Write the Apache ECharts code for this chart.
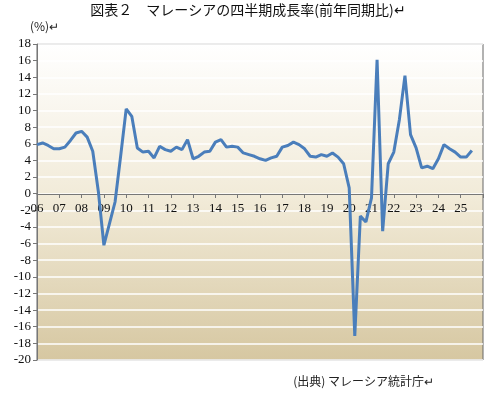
<!DOCTYPE html>
<html>
<head>
<meta charset="utf-8">
<script src="https://cdn.jsdelivr.net/npm/echarts@6/dist/echarts.min.js"></script>
<style>body{margin:0;background:#fff}#c{width:496px;height:400px}</style>
</head>
<body>
<div id="c"></div>
<script>
// 四半期成長率（前年同期比, %）2006Q1〜2025Q3
const years = ["06","07","08","09","10","11","12","13","14","15","16","17","18","19","20","21","22","23","24","25"];
const growth = [
  5.9, 6.1, 5.8, 5.4,
  5.4, 5.6, 6.4, 7.3,
  7.5, 6.8, 5.1, 0.3,
  -6.2, -3.6, -1.0, 4.5,
  10.2, 9.3, 5.5, 5.0,
  5.1, 4.3, 5.7, 5.3,
  5.1, 5.6, 5.3, 6.5,
  4.2, 4.5, 5.0, 5.1,
  6.2, 6.5, 5.6, 5.7,
  5.6, 4.9, 4.7, 4.5,
  4.2, 4.0, 4.3, 4.5,
  5.6, 5.8, 6.2, 5.9,
  5.4, 4.5, 4.4, 4.7,
  4.5, 4.9, 4.4, 3.6,
  0.7, -17.1, -2.7, -3.4,
  -0.5, 16.1, -4.5, 3.6,
  5.0, 8.9, 14.2, 7.1,
  5.5, 3.1, 3.3, 3.0,
  4.2, 5.9, 5.4, 5.0,
  4.4, 4.4, 5.2
];

// 四半期カテゴリ（2026Q1 を右端に置く）
const quarters = [];
years.forEach(y => { for (let q = 1; q <= 4; q++) quarters.push(q === 1 ? y : ""); });
quarters.push("");

const chart = echarts.init(document.getElementById("c"));
const serif = "'Liberation Serif','DejaVu Serif',serif";
chart.setOption({
  animation: false,
  graphic: [
    { type: "text", left: "center", top: 3,
      style: { text: "図表２　マレーシアの四半期成長率(前年同期比)↵", font: "14px 'Noto Sans CJK JP'", fill: "#111" } },
    { type: "text", left: 30, top: 20,
      style: { text: "(%)↵", font: "12px 'Noto Sans CJK JP'", fill: "#222" } },
    { type: "text", right: 62, top: 375,
      style: { text: "(出典) マレーシア統計庁↵", font: "12px 'Noto Sans CJK JP'", fill: "#222" } }
  ],
  grid: {
    left: 37, right: 13, top: 44, bottom: 40,
    show: true, borderColor: "#666", borderWidth: 1,
    backgroundColor: new echarts.graphic.LinearGradient(0, 0, 0, 1, [
      { offset: 0, color: "#ffffff" },
      { offset: 0.5, color: "#f1ead7" },
      { offset: 1, color: "#d6c7a1" }
    ])
  },
  xAxis: {
    type: "category",
    data: quarters,
    boundaryGap: false,
    offset: -166,
    axisLine: { onZero: false, lineStyle: { color: "#777" } },
    axisTick: { interval: i => i % 4 === 0, length: 4, lineStyle: { color: "#777" } },
    axisLabel: { interval: i => i % 4 === 0, color: "#111", fontSize: 13, fontFamily: serif, margin: 8 },
    splitLine: { show: false }
  },
  yAxis: {
    type: "value",
    min: -20, max: 18, interval: 2,
    axisLine: { show: true, lineStyle: { color: "#777" } },
    axisTick: { show: true, inside: false, length: 4, lineStyle: { color: "#777" } },
    axisLabel: { color: "#111", fontSize: 13, fontFamily: serif, margin: 6 },
    splitLine: { lineStyle: { color: "#ffffff", width: 1.5 } }
  },
  series: [{
    type: "line",
    data: growth,
    symbol: "none",
    lineStyle: { color: "#4a7ebb", width: 3 }
  }]
});
</script>
</body>
</html>
